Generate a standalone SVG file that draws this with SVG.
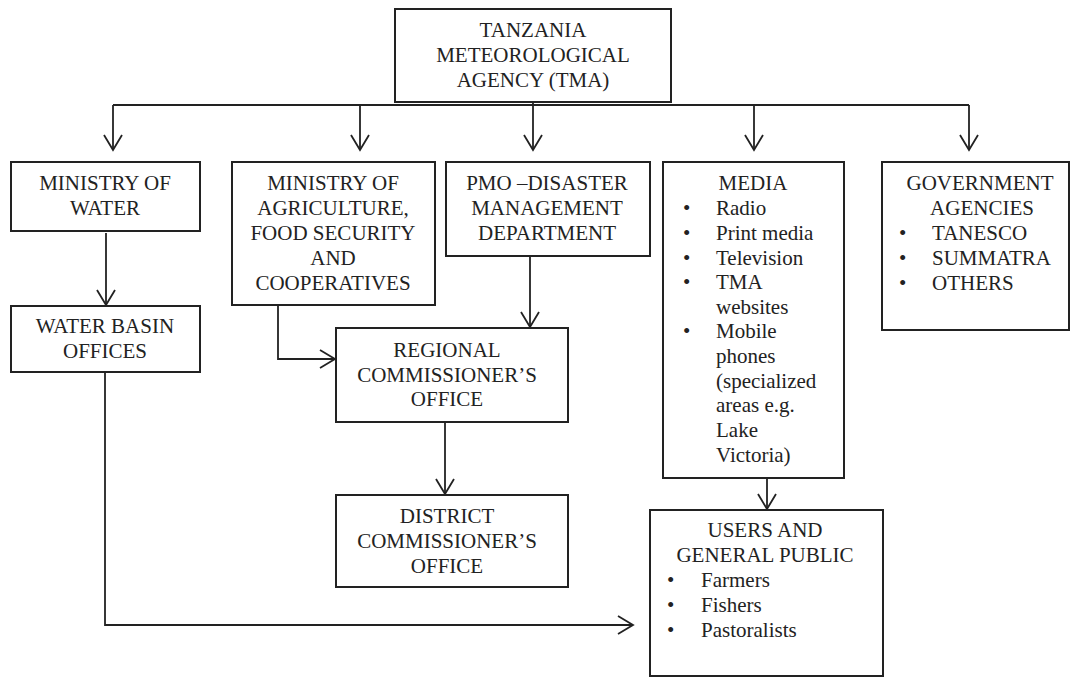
<svg xmlns="http://www.w3.org/2000/svg" width="1079" height="677" viewBox="0 0 1079 677">
<defs>
<style>
.box{fill:#fff;stroke:#222;stroke-width:2}
.t{font-family:"Liberation Serif","Times New Roman",serif;font-size:21px;fill:#222}
.c{text-anchor:middle}
.ln{fill:none;stroke:#222;stroke-width:1.8}
</style>
<marker id="arr" markerUnits="userSpaceOnUse" viewBox="-17 -11 19 22" refX="0" refY="0" markerWidth="19" markerHeight="22" orient="auto">
<path d="M-15,-9 L0,0 L-15,9" fill="none" stroke="#222" stroke-width="1.8"/>
</marker>
</defs>
<rect width="1079" height="677" fill="#fff"/>
<g id="connectors">
<path class="ln" d="M113,105 H969"/>
<path class="ln" d="M113,105 V150" marker-end="url(#arr)"/>
<path class="ln" d="M360,105 V150" marker-end="url(#arr)"/>
<path class="ln" d="M533,102 V150" marker-end="url(#arr)"/>
<path class="ln" d="M754,105 V150" marker-end="url(#arr)"/>
<path class="ln" d="M969,105 V150" marker-end="url(#arr)"/>
<path class="ln" d="M106,233 V305" marker-end="url(#arr)"/>
<path class="ln" d="M530,256 V327" marker-end="url(#arr)"/>
<path class="ln" d="M278,305 V359 H335" marker-end="url(#arr)"/>
<path class="ln" d="M445,422 V494" marker-end="url(#arr)"/>
<path class="ln" d="M767,478 V509" marker-end="url(#arr)"/>
<path class="ln" d="M105,372 V625 H633" marker-end="url(#arr)"/>
</g>
<g id="tma">
<rect class="box" x="395" y="9" width="276" height="93"/>
<text class="t c" x="533" y="37">TANZANIA</text>
<text class="t c" x="533" y="62">METEOROLOGICAL</text>
<text class="t c" x="533" y="87">AGENCY (TMA)</text>
</g>
<g id="ministry-water">
<rect class="box" x="11" y="162" width="189" height="69"/>
<text class="t c" x="105" y="190">MINISTRY OF</text>
<text class="t c" x="105" y="215">WATER</text>
</g>
<g id="ministry-agriculture">
<rect class="box" x="232" y="162" width="203" height="143"/>
<text class="t c" x="333" y="190">MINISTRY OF</text>
<text class="t c" x="333" y="215">AGRICULTURE,</text>
<text class="t c" x="333" y="240">FOOD SECURITY</text>
<text class="t c" x="333" y="265">AND</text>
<text class="t c" x="333" y="290">COOPERATIVES</text>
</g>
<g id="pmo">
<rect class="box" x="446" y="162" width="204" height="94"/>
<text class="t c" x="547" y="190">PMO –DISASTER</text>
<text class="t c" x="547" y="215">MANAGEMENT</text>
<text class="t c" x="547" y="240">DEPARTMENT</text>
</g>
<g id="media">
<rect class="box" x="663" y="162" width="181" height="316"/>
<text class="t c" x="753" y="190">MEDIA</text>
<g class="t">
<text x="683" y="215">•</text><text x="716" y="215">Radio</text>
<text x="683" y="240">•</text><text x="716" y="240">Print media</text>
<text x="683" y="265">•</text><text x="716" y="265">Television</text>
<text x="683" y="289">•</text><text x="716" y="289">TMA</text>
<text x="716" y="314">websites</text>
<text x="683" y="338">•</text><text x="716" y="338">Mobile</text>
<text x="716" y="363">phones</text>
<text x="716" y="388">(specialized</text>
<text x="716" y="412">areas e.g.</text>
<text x="716" y="437">Lake</text>
<text x="716" y="462">Victoria)</text>
</g>
</g>
<g id="government">
<rect class="box" x="882" y="162" width="187" height="168"/>
<text class="t c" x="980" y="190">GOVERNMENT</text>
<text class="t c" x="982" y="215">AGENCIES</text>
<g class="t">
<text x="899" y="240">•</text><text x="932" y="240">TANESCO</text>
<text x="899" y="265">•</text><text x="932" y="265">SUMMATRA</text>
<text x="899" y="290">•</text><text x="932" y="290">OTHERS</text>
</g>
</g>
<g id="water-basin">
<rect class="box" x="11" y="306" width="189" height="66"/>
<text class="t c" x="105" y="333">WATER BASIN</text>
<text class="t c" x="105" y="358">OFFICES</text>
</g>
<g id="regional">
<rect class="box" x="336" y="328" width="232" height="94"/>
<text class="t c" x="447" y="357">REGIONAL</text>
<text class="t c" x="447" y="382">COMMISSIONER’S</text>
<text class="t c" x="447" y="406">OFFICE</text>
</g>
<g id="district">
<rect class="box" x="336" y="495" width="232" height="92"/>
<text class="t c" x="447" y="523">DISTRICT</text>
<text class="t c" x="447" y="548">COMMISSIONER’S</text>
<text class="t c" x="447" y="573">OFFICE</text>
</g>
<g id="users">
<rect class="box" x="650" y="510" width="233" height="166"/>
<text class="t c" x="765" y="537">USERS AND</text>
<text class="t c" x="765" y="562">GENERAL PUBLIC</text>
<g class="t">
<text x="667" y="587">•</text><text x="701" y="587">Farmers</text>
<text x="667" y="612">•</text><text x="701" y="612">Fishers</text>
<text x="667" y="637">•</text><text x="701" y="637">Pastoralists</text>
</g>
</g>
</svg>
